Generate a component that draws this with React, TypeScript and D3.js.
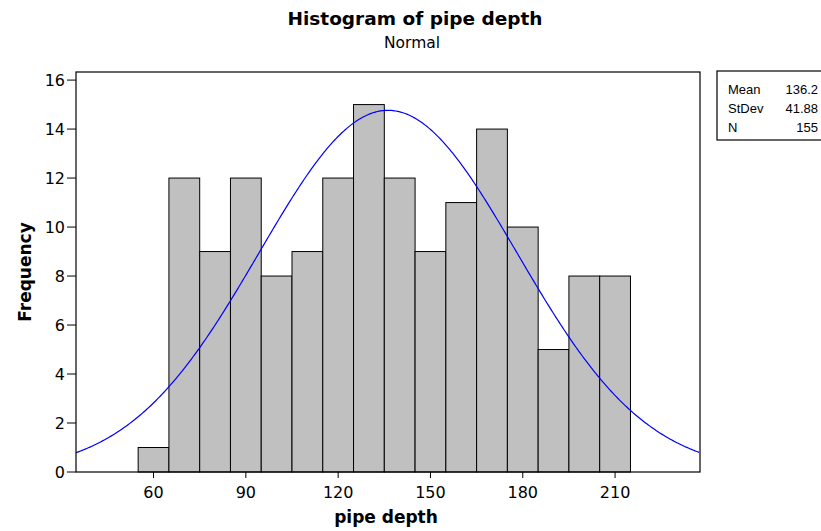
import React from 'react';
import * as d3 from 'd3';

// bins of width 10, starting at 55
const binStarts = [55, 65, 75, 85, 95, 105, 115, 125, 135, 145, 155, 165, 175, 185, 195, 205];
const binWidth = 10;
const counts = [1, 12, 9, 12, 8, 9, 12, 15, 12, 9, 11, 14, 10, 5, 8, 8];
const xTicks = [60, 90, 120, 150, 180, 210];
const yTicks = [0, 2, 4, 6, 8, 10, 12, 14, 16];

const statLabels = ['Mean', 'StDev', 'N'];
const statValues = ['136.2', '41.88', '155'];
const mean = 136.2;
const sd = 41.88;
const n = 155;

const W = 821;
const H = 531;
const plot = { left: 76, right: 700, top: 72, bottom: 472 };
const font = '"DejaVu Sans", sans-serif';

export default function App() {
  const x = d3.scaleLinear().domain([34.8, 237.6]).range([plot.left, plot.right]);
  const y = d3.scaleLinear().domain([0, 16.33]).range([plot.bottom, plot.top]);

  // fitted normal curve scaled to counts
  const pdf = (v: number) =>
    (n * binWidth) / (sd * Math.sqrt(2 * Math.PI)) * Math.exp(-0.5 * ((v - mean) / sd) ** 2);
  const curvePts = d3.range(x.domain()[0], x.domain()[1] + 0.01, 0.5).map((v) => [v, pdf(v)] as [number, number]);
  const line = d3
    .line<[number, number]>()
    .x((d) => x(d[0]))
    .y((d) => y(d[1]));

  return (
    <svg width={W} height={H} style={{ position: 'absolute', left: 0, top: 0, background: '#fff' }} fontFamily={font}>
      <rect x={0} y={0} width={W} height={H} fill="#fff" />
      {/* titles */}
      <text x={415} y={25} textAnchor="middle" fontSize={18.5} fontWeight="bold">Histogram of pipe depth</text>
      <text x={412} y={48} textAnchor="middle" fontSize={15.5}>Normal</text>

      {/* bars */}
      {counts.map((c, i) => (
        <rect
          key={i}
          x={x(binStarts[i])}
          y={y(c)}
          width={x(binStarts[i] + binWidth) - x(binStarts[i])}
          height={y(0) - y(c)}
          fill="#c0c0c0"
          stroke="#000"
          strokeWidth={1}
        />
      ))}

      {/* normal curve */}
      <path d={line(curvePts) || ''} fill="none" stroke="#0000ff" strokeWidth={1.2} />

      {/* frame */}
      <rect x={plot.left} y={plot.top} width={plot.right - plot.left} height={plot.bottom - plot.top} fill="none" stroke="#000" strokeWidth={1.2} />

      {/* y axis */}
      {yTicks.map((t) => (
        <g key={t}>
          <line x1={plot.left - 9} x2={plot.left} y1={y(t)} y2={y(t)} stroke="#000" />
          <text x={plot.left - 11} y={y(t) + 6} textAnchor="end" fontSize={16}>{t}</text>
        </g>
      ))}
      <text transform={`translate(31,${(plot.top + plot.bottom) / 2}) rotate(-90)`} textAnchor="middle" fontSize={17} fontWeight="bold">Frequency</text>

      {/* x axis */}
      {xTicks.map((t) => (
        <g key={t}>
          <line x1={x(t)} x2={x(t)} y1={plot.bottom} y2={plot.bottom + 6} stroke="#000" />
          <text x={x(t)} y={plot.bottom + 26} textAnchor="middle" fontSize={16}>{t}</text>
        </g>
      ))}
      <text x={386} y={523} textAnchor="middle" fontSize={17} fontWeight="bold">pipe depth</text>

      {/* stats box */}
      <rect x={717} y={71} width={120} height={69} fill="#fff" stroke="#000" strokeWidth={1.2} />
      {statLabels.map((s, i) => (
        <g key={s} fontFamily='"Liberation Sans", Arial, sans-serif'>
          <text x={728} y={94 + i * 19} fontSize={13}>{s}</text>
          <text x={818} y={94 + i * 19} fontSize={13} textAnchor="end">{statValues[i]}</text>
        </g>
      ))}
    </svg>
  );
}
